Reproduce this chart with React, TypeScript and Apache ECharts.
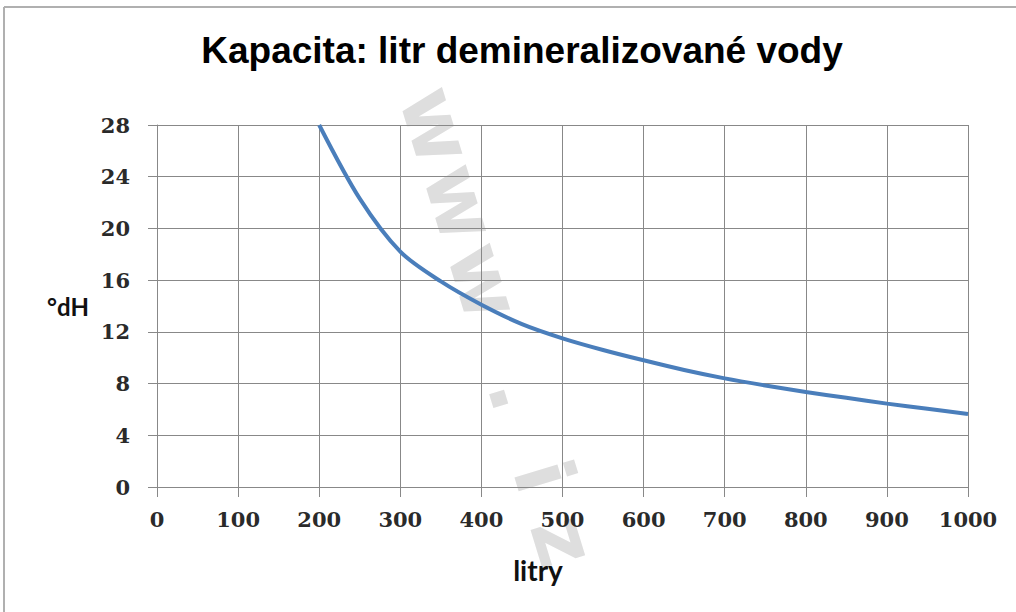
import React, { useEffect, useRef } from "react";
import * as echarts from "echarts";

const TITLE = "Kapacita: litr demineralizované vody";
const X_NAME = "litry";
const Y_NAME = "°dH";
const LITRES = [200, 250, 300, 350, 400, 450, 500, 550, 600, 650, 700, 750, 800, 850, 900, 950, 1000];
const DH = [28, 22.3, 18.2, 15.9, 14.1, 12.6, 11.5, 10.6, 9.8, 9.05, 8.4, 7.85, 7.35, 6.9, 6.45, 6.05, 5.65];
const WATERMARK_CHARS = ["w", "w", "w", ".", "i", "z"];
const WATERMARK_T = [-280, -199, -117, 0, 87, 155];

export default function App() {
  const ref = useRef<HTMLDivElement>(null);
  useEffect(() => {
    if (!ref.current) return;
    const chart = echarts.init(ref.current, null, { renderer: "svg" });
    const ang = (73 * Math.PI) / 180;
    const ux = Math.cos(ang), uy = Math.sin(ang);
    const upx = Math.sin(ang), upy = -Math.cos(ang);
    const fs = 82;
    const wm = WATERMARK_CHARS.map((ch, i) => {
      const t = WATERMARK_T[i];
      const bx = 495 + ux * t;
      const by = 400 + uy * t;
      return {
        type: "text",
        x: bx + upx * fs * 0.3,
        y: by + upy * fs * 0.3,
        rotation: -ang,
        z: -10,
        silent: true,
        style: {
          text: ch,
          font: `bold ${fs}px "DejaVu Sans"`,
          fill: "#dedede",
          align: "center",
          verticalAlign: "middle",
        },
      };
    });
    const labelStyle = {
      color: "#2a2a2a",
      fontFamily: "DejaVu Serif",
      fontWeight: "bold",
      fontSize: 21,
      formatter: (v: number) => String(v),
    };
    chart.setOption({
      animation: false,
      backgroundColor: "#ffffff",
      grid: { left: 157, right: 48, top: 125, bottom: 125, containLabel: false },
      xAxis: {
        type: "value",
        min: 0,
        max: 1000,
        interval: 100,
        axisLine: { show: true, lineStyle: { color: "#888888", width: 1 } },
        axisTick: { show: true, length: 10, lineStyle: { color: "#888888" } },
        splitLine: { show: true, lineStyle: { color: "#888888", width: 1 } },
        axisLabel: { ...labelStyle, margin: 22 },
      },
      yAxis: {
        type: "value",
        min: 0,
        max: 28,
        interval: 4,
        axisLine: { show: true, lineStyle: { color: "#888888", width: 1 } },
        axisTick: { show: true, length: 9, lineStyle: { color: "#888888" } },
        splitLine: { show: true, lineStyle: { color: "#888888", width: 1 } },
        axisLabel: { ...labelStyle, margin: 27 },
      },
      series: [
        {
          type: "line",
          data: LITRES.map((x, i) => [x, DH[i]]),
          smooth: 0.3,
          showSymbol: false,
          symbol: "none",
          lineStyle: { color: "#4a7ebb", width: 4 },
          z: 5,
        },
      ],
      graphic: [
        ...wm,
        {
          type: "line",
          shape: { x1: 4, y1: 7, x2: 1016, y2: 7 },
          style: { stroke: "#b0b0b0", lineWidth: 2 },
        },
        {
          type: "line",
          shape: { x1: 4, y1: 7, x2: 4, y2: 612 },
          style: { stroke: "#b0b0b0", lineWidth: 2 },
        },
        {
          type: "text",
          x: 522,
          y: 50,
          style: {
            text: TITLE,
            font: 'bold 37px "Liberation Sans"',
            fill: "#000000",
            align: "center",
            verticalAlign: "middle",
          },
        },
        {
          type: "text",
          x: 68,
          y: 306,
          style: {
            text: Y_NAME,
            font: 'bold 24px Lato',
            fill: "#111111",
            align: "center",
            verticalAlign: "middle",
          },
        },
        {
          type: "text",
          x: 538,
          y: 570,
          style: {
            text: X_NAME,
            font: 'bold 28px Lato',
            fill: "#111111",
            align: "center",
            verticalAlign: "middle",
          },
        },
      ],
    });
    return () => chart.dispose();
  }, []);
  return (
    <div
      ref={ref}
      style={{ position: "fixed", left: 0, top: 0, width: 1016, height: 612 }}
    />
  );
}
